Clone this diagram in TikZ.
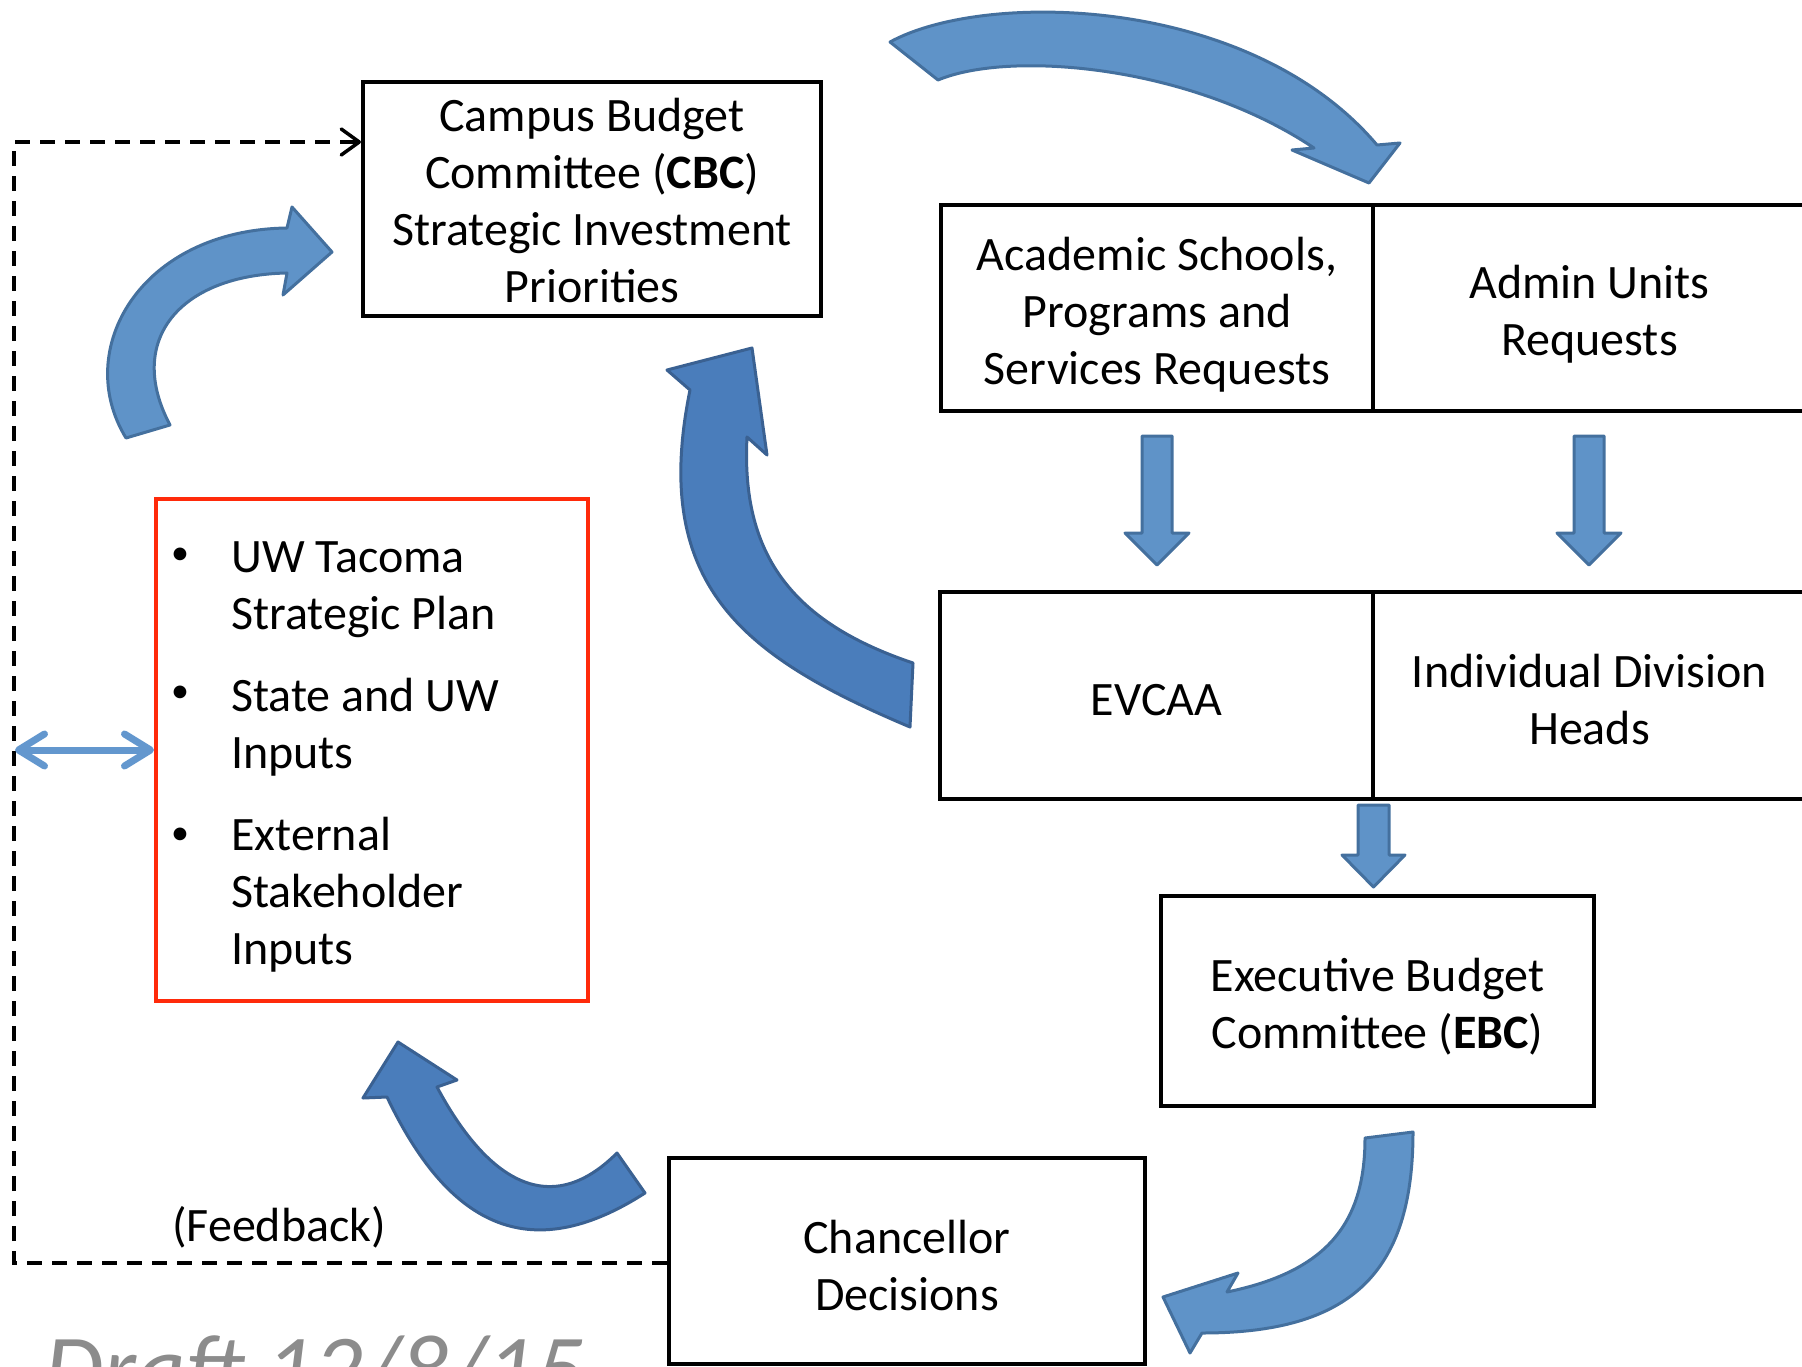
\documentclass[tikz,border=0pt]{standalone}
\usepackage{fontspec}
\setmainfont{Carlito}
\usetikzlibrary{arrows.meta,calc}
\definecolor{arrfill}{HTML}{5F93C8}
\definecolor{arrline}{HTML}{44709E}
\definecolor{darkfill}{HTML}{4A7DBB}
\definecolor{darkline}{HTML}{3A6192}
\definecolor{redbox}{HTML}{FF2A0A}
\definecolor{dblblue}{HTML}{6397CE}
\definecolor{draftgray}{HTML}{8C8C8C}
\begin{document}
\begin{tikzpicture}[x=1bp,y=-1bp,
  box/.style={draw=black,line width=4bp,inner sep=0pt},
  boxtext/.style={align=center,inner sep=0pt,font=\fontsize{48bp}{57bp}\selectfont},
  redframe/.style={draw=redbox,line width=4bp,inner sep=0pt},
  linetext/.style={anchor=base west,inner sep=0pt,font=\fontsize{48bp}{57bp}\selectfont},
  bullettext/.style={anchor=base west,inner sep=0pt,font=\fontsize{36bp}{40bp}\selectfont},
  blockarrow/.style={fill=arrfill,draw=arrline,line width=3bp,line join=round},
  darkarrow/.style={fill=darkfill,draw=darkline,line width=3bp,line join=round},
  fbline/.style={draw=black,line width=3.5bp,dash pattern=on 15bp off 10bp},
  dblarrow/.style={draw=dblblue,line width=7bp,line cap=round,
    {Straight Barb[length=26bp,width=32bp,round]}-{Straight Barb[length=26bp,width=32bp,round]}}
]
\useasboundingbox (0,0) rectangle (1802,1367);
\clip (0,0) rectangle (1802,1367);

% boxes
\node[box,minimum width=458bp,minimum height=234bp] (cbc) at (592,199) {};
\node[box,minimum width=432bp,minimum height=206bp] (acad) at (1157,308) {};
\node[box,minimum width=433bp,minimum height=206bp] (admin) at (1589.5,308) {};
\node[box,minimum width=433bp,minimum height=207bp] (evcaa) at (1156.5,695.5) {};
\node[box,minimum width=433bp,minimum height=207bp] (div) at (1589.5,695.5) {};
\node[box,minimum width=433bp,minimum height=210bp] (ebc) at (1377.5,1001) {};
\node[box,minimum width=476bp,minimum height=206bp] (chanc) at (907,1261) {};
\node[redframe,minimum width=432bp,minimum height=502bp] (red) at (372,750) {};

% box texts
\node[boxtext] (cbcT) at ($(cbc.center)+(0,2)$)
  {Campus Budget\\Committee (\textbf{CBC})\\Strategic Investment\\Priorities};
\node[boxtext] (acadT) at ($(acad.center)+(0,7)$)
  {Academic Schools,\\Programs and\\Services Requests};
\node[boxtext] (adminT) at ($(admin.center)+(0,6)$) {Admin Units\\Requests};
\node[boxtext] (evcaaT) at ($(evcaa.center)+(0,5)$) {EVCAA};
\node[boxtext] (divT) at ($(div.center)+(0,4)$) {Individual Division\\Heads};
\node[boxtext] (ebcT) at ($(ebc.center)+(0,6)$) {Executive Budget\\Committee (\textbf{EBC})};
\node[boxtext] (chancT) at ($(chanc.center)+(0,4)$) {Chancellor\\Decisions};

% bullet list
\node[bullettext] (bu1) at (171,564) {•};
\node[linetext] (t1a) at (231,572) {UW Tacoma};
\node[linetext] (t1b) at (231,629) {Strategic Plan};
\node[bullettext] (bu2) at (171,702) {•};
\node[linetext] (t2a) at (231,711) {State and UW};
\node[linetext] (t2b) at (231,768) {Inputs};
\node[bullettext] (bu3) at (171,844) {•};
\node[linetext] (t3a) at (231,850) {External};
\node[linetext] (t3b) at (231,907) {Stakeholder};
\node[linetext] (t3c) at (231,964) {Inputs};

% feedback label and draft
\node[linetext] (fb) at (172,1241) {(Feedback)};
\node[anchor=base west,inner sep=0pt,text=draftgray,
  font=\fontsize{96bp}{100bp}\selectfont\itshape] (draft) at (44,1401) {Draft 12/8/15};

% dashed feedback line
\coordinate (fbB) at (14,1263);
\coordinate (fbT) at (14,142);
\draw[fbline] (chanc.west |- fbB) -- (fbB) -- (fbT) -- (cbc.west |- fbT);
\draw[draw=black,line width=3.5bp,-{Straight Barb[length=18bp,width=26bp,round]}]
  ($(cbc.west |- fbT)+(-14,0)$) -- (cbc.west |- fbT);

% double arrow
\coordinate (dl) at (15,750);
\draw[dblarrow] (dl) -- (red.west |- dl);

% straight block arrows
\draw[blockarrow] (1142,436) -- (1172,436) -- (1172,533) -- (1189,533) -- (1157,565)
  -- (1125,533) -- (1142,533) -- cycle;
\draw[blockarrow] (1574,436) -- (1604,436) -- (1604,533) -- (1621,533) -- (1589,565)
  -- (1557,533) -- (1574,533) -- cycle;
\draw[blockarrow] (1358,805) -- (1389,805) -- (1389,855) -- (1405,855) -- (1373.5,887)
  -- (1342,855) -- (1358,855) -- cycle;

% curved arrows
\draw[blockarrow] (890,42) .. controls (985,-10) and (1250,-5) .. (1377,145)
  -- (1400,143) -- (1369,183) -- (1292,150) -- (1314,148)
  .. controls (1190,65) and (1010,50) .. (938,80) -- cycle;
\draw[blockarrow] (126,438) .. controls (72,350) and (140,230) .. (287,228)
  -- (292,207) -- (332,252) -- (283,295) -- (287,273)
  .. controls (180,275) and (125,340) .. (170,425) -- cycle;
\draw[darkarrow] (910,727) .. controls (744,657) and (650,586) .. (690,390)
  -- (667,370) -- (752,348) -- (767,455) -- (747,437)
  .. controls (741,554) and (791,622) .. (913,663) -- cycle;
\draw[blockarrow] (1413,1132) .. controls (1413,1274) and (1350,1333) .. (1202,1333)
  -- (1190,1353) -- (1163,1297) -- (1238,1273) -- (1227,1292)
  .. controls (1324,1272) and (1365,1226) .. (1365,1138) -- cycle;
\draw[darkarrow] (645,1193) .. controls (527,1269) and (447,1223) .. (387,1097)
  -- (363,1098) -- (398,1042) -- (457,1080) -- (437,1087)
  .. controls (484,1175) and (547,1223) .. (617,1153) -- cycle;
\end{tikzpicture}
\end{document}
